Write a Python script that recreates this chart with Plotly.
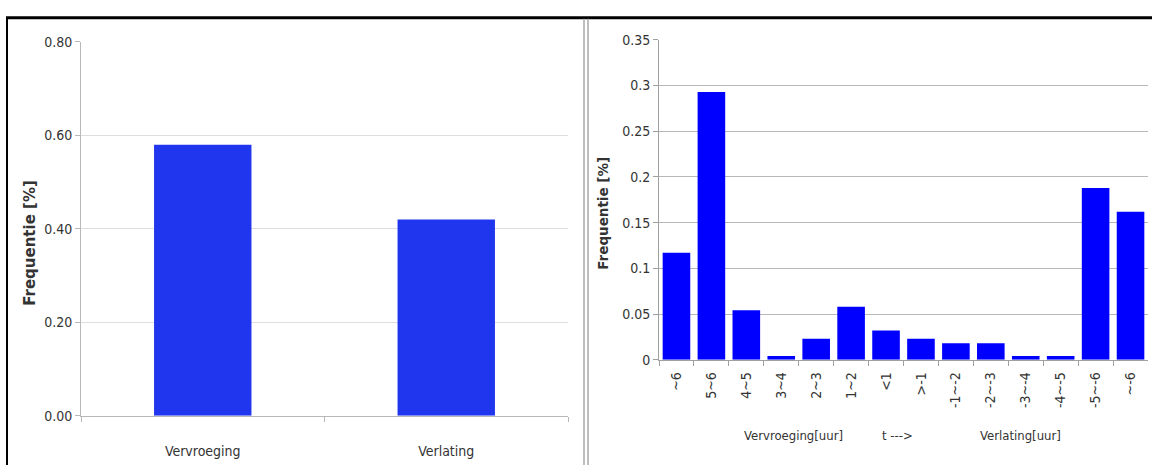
import plotly.graph_objects as go
from plotly.subplots import make_subplots

# Linker grafiek: totaal vervroeging / verlating
richting = ["Vervroeging", "Verlating"]
richting_freq = [0.58, 0.42]

# Rechter grafiek: verdeling per uur
klassen = ["~6", "5~6", "4~5", "3~4", "2~3", "1~2", "<1", ">-1",
           "-1~-2", "-2~-3", "-3~-4", "-4~-5", "-5~-6", "~-6"]
klassen_freq = [0.117, 0.293, 0.054, 0.004, 0.023, 0.058, 0.032, 0.023,
                0.018, 0.018, 0.004, 0.004, 0.188, 0.162]

W, H = 1152, 473
tick_font = dict(family="DejaVu Sans Condensed, Liberation Sans Narrow, sans-serif", size=13, color="#333333")
title_font = dict(family="DejaVu Sans, sans-serif", size=15, color="#333333")

fig = make_subplots(rows=1, cols=2)
fig.add_trace(go.Bar(x=richting, y=richting_freq, marker_color="#2035EE",
                     marker_line_width=0, showlegend=False), row=1, col=1)
fig.add_trace(go.Bar(x=klassen, y=klassen_freq, marker_color="#0000FF",
                     marker_line_width=0, showlegend=False), row=1, col=2)

fig.update_layout(
    width=W, height=H, margin=dict(l=0, r=0, t=0, b=0),
    plot_bgcolor="white", paper_bgcolor="white",
    xaxis=dict(domain=[81 / W, 568 / W], showgrid=False, showline=True, linecolor="#b8b8b8",
               ticks="outside", tickson="boundaries", ticklen=5, tickcolor="#b8b8b8",
               tickfont=dict(tick_font, size=14), ticklabelstandoff=22),
    yaxis=dict(domain=[1 - 422 / H, 1 - 35 / H], range=[0, 0.8], dtick=0.2, tickformat=".2f",
               showgrid=True, gridcolor="#dddddd", showline=True, linecolor="#b8b8b8",
               ticks="outside", ticklen=5, tickcolor="#b8b8b8", tickfont=dict(tick_font, size=14),
               zeroline=False),
    xaxis2=dict(domain=[659 / W, 1148 / W], showgrid=False, showline=True, linecolor="#a0a0a0",
                ticks="outside", tickson="boundaries", ticklen=5, tickcolor="#a0a0a0",
                tickangle=-90, tickfont=dict(tick_font, size=14), ticklabelstandoff=6),
    yaxis2=dict(domain=[1 - 364 / H, 1 - 33 / H], range=[0, 0.35], dtick=0.05,
                showgrid=True, gridcolor="#b8b8b8", showline=True, linecolor="#a0a0a0",
                ticks="outside", ticklen=5, tickcolor="#a0a0a0", tickfont=dict(tick_font, size=14),
                zeroline=False),
    bargap=0.6,
)
fig.update_traces(width=0.4, selector=dict(xaxis="x"))
fig.update_traces(width=0.79, selector=dict(xaxis="x2"))

# as-titels (iets onder het midden, zoals in het origineel)
for xp, yp, grootte in [(30, 243, 15), (603, 213, 13.5)]:
    fig.add_annotation(text="<b>Frequentie [%]</b>", x=xp / W, y=1 - yp / H, xref="paper", yref="paper",
                       textangle=-90, xanchor="center", yanchor="middle", showarrow=False,
                       font=dict(title_font, size=grootte))

# onderschriften rechter grafiek
onderschrift = [("Vervroeging[uur]", 793), ("t --->", 897), ("Verlating[uur]", 1020)]
for tekst, xp in onderschrift:
    fig.add_annotation(text=tekst, x=xp / W, y=1 - 442 / H, xref="paper", yref="paper",
                       xanchor="center", yanchor="middle", showarrow=False, font=tick_font)

# kaders
fig.add_shape(type="line", xref="paper", yref="paper", x0=6 / W, x1=1, y0=1 - 10 / H, y1=1 - 10 / H,
              line=dict(color="black", width=3))
fig.add_shape(type="line", xref="paper", yref="paper", x0=7 / W, x1=7 / W, y0=0, y1=1 - 10 / H,
              line=dict(color="black", width=2))
for xp in (584, 588):
    fig.add_shape(type="line", xref="paper", yref="paper", x0=xp / W, x1=xp / W, y0=0, y1=1 - 11 / H,
                  line=dict(color="#a8a8a8", width=1.5))

fig.write_html("out.html", config={"displayModeBar": False},
               post_script="document.body.style.margin='0';document.body.style.overflow='hidden';")
